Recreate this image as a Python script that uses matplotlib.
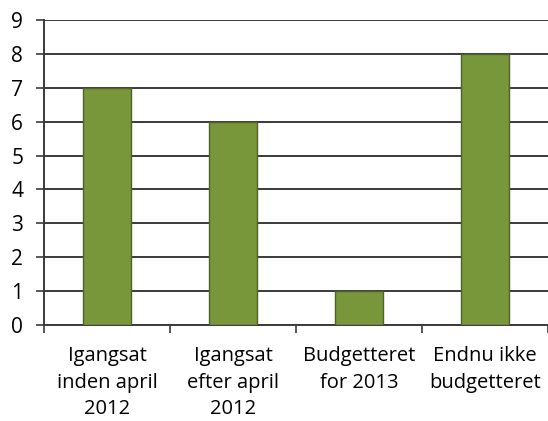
import matplotlib
matplotlib.use("Agg")
import matplotlib.pyplot as plt
import numpy as np

# ── Data ─────────────────────────────────────────────────────────────────────
categories = ["Igangsat\ninden april\n2012", "Igangsat\nefter april\n2012",
              "Budgetteret\nfor 2013", "Endnu ikke\nbudgetteret"]
values = [7, 6, 1, 8]

GREEN = "#78963A"
EDGE = "#4F6228"
GRID = "#3A3A3A"

plt.rcParams["font.family"] = ["Open Sans", "DejaVu Sans"]

fig = plt.figure(figsize=(5.48, 4.21), dpi=100)
ax = fig.add_axes([44 / 548, 1 - 325 / 421, 504 / 548, 305 / 421])

x = np.arange(len(categories))
ax.bar(x, values, width=0.38, color=GREEN, edgecolor=EDGE, lw=1.0, zorder=3)

ax.set_xlim(-0.5, len(categories) - 0.5)
ax.set_ylim(0, 9)
ax.set_yticks(range(0, 10))
ax.yaxis.grid(True, color=GRID, lw=1.4, zorder=1)
ax.set_axisbelow(True)

ax.set_xticks(x)
ax.set_xticklabels(categories, fontsize=14.5, linespacing=1.45)
ax.set_xticks(np.arange(-0.5, len(categories)), minor=True)
ax.tick_params(axis="x", which="major", length=0, pad=15)
ax.tick_params(axis="x", which="minor", length=6, width=1.2, color=GRID)
ax.tick_params(axis="y", length=6, width=1.2, color=GRID, labelsize=15, pad=9)

for s in ["top", "right"]:
    ax.spines[s].set_visible(False)
ax.spines["left"].set_color(GRID)
ax.spines["left"].set_linewidth(1.4)
ax.spines["bottom"].set_color(GRID)
ax.spines["bottom"].set_linewidth(1.4)

fig.savefig("out.png", dpi=100)
